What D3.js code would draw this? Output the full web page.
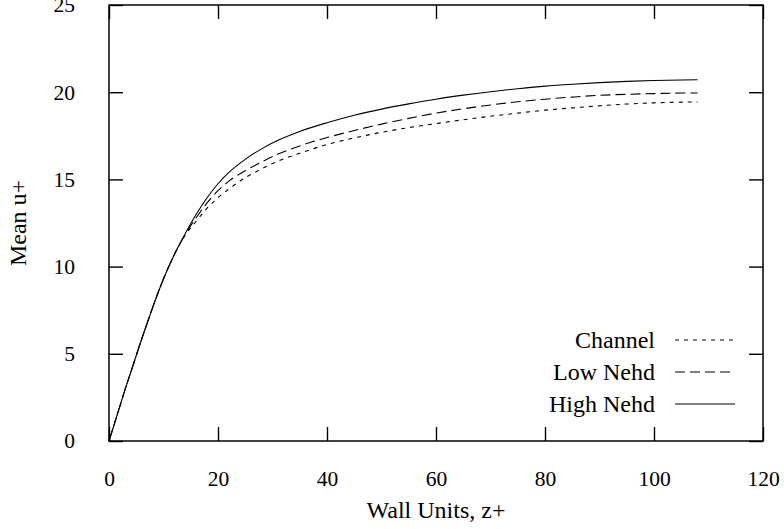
<!DOCTYPE html>
<html>
<head>
<meta charset="utf-8">
<script src="https://cdn.jsdelivr.net/npm/d3@7"></script>
<style>
  html, body { margin: 0; padding: 0; background: #fff; }
  svg text { font-family: "Liberation Serif", "Times New Roman", serif; fill: #000; }
</style>
</head>
<body>
<svg id="chart" width="784" height="529"></svg>
<script>
// Mean streamwise velocity profiles in wall units
const zPlus = [0, 1, 2, 3, 4, 5, 6, 7, 8, 9, 10, 12, 14, 16, 18, 20, 22, 25, 28, 31, 35, 40, 45, 50, 55, 60, 65, 70, 75, 80, 85, 90, 95, 100, 105, 108];

const channelU = [0, 1, 2, 3, 3.95, 4.9, 5.85, 6.75, 7.65, 8.5, 9.3, 10.7, 11.8, 12.6, 13.35, 13.95, 14.45, 15.1, 15.6, 16.05, 16.5, 17.0, 17.38, 17.7, 17.97, 18.2, 18.42, 18.62, 18.8, 18.97, 19.1, 19.22, 19.32, 19.39, 19.43, 19.44];
const lowNehdU = [0, 1, 2, 3, 3.95, 4.9, 5.85, 6.75, 7.65, 8.5, 9.3, 10.7, 11.85, 12.8, 13.65, 14.35, 14.9, 15.5, 16.0, 16.45, 16.92, 17.4, 17.8, 18.17, 18.5, 18.8, 19.05, 19.27, 19.45, 19.6, 19.72, 19.82, 19.88, 19.92, 19.95, 19.95];
const highNehdU = [0, 1, 2, 3, 3.95, 4.9, 5.85, 6.75, 7.65, 8.5, 9.3, 10.7, 11.9, 13.0, 13.95, 14.75, 15.4, 16.15, 16.75, 17.24, 17.75, 18.25, 18.68, 19.03, 19.33, 19.6, 19.83, 20.03, 20.2, 20.35, 20.46, 20.55, 20.62, 20.67, 20.7, 20.71];

const seriesNames = ["Channel", "Low Nehd", "High Nehd"];
const xTicks = [0, 20, 40, 60, 80, 100, 120];
const yTicks = [0, 5, 10, 15, 20, 25];

const series = [
  { name: seriesNames[0], values: channelU, dash: "4,5" },
  { name: seriesNames[1], values: lowNehdU, dash: "10,5" },
  { name: seriesNames[2], values: highNehdU, dash: null }
];

const svg = d3.select("#chart");
const plot = { left: 109, right: 763, top: 5, bottom: 441 };

const x = d3.scaleLinear().domain([0, 120]).range([plot.left, plot.right]);
const y = d3.scaleLinear().domain([0, 25]).range([plot.bottom, plot.top]);

const tickFont = 21.5;
const labelFont = 24;
const tickLen = 14;

// Ticks on all four sides, pointing inward
const axisStyle = g => {
  g.select(".domain").remove();
  g.selectAll(".tick line").attr("stroke", "#000").attr("stroke-width", 1.4);
  g.selectAll("text").attr("font-size", tickFont).attr("font-family", "Liberation Serif, serif");
};

svg.append("g")
  .attr("transform", `translate(0,${plot.bottom})`)
  .call(d3.axisBottom(x).tickValues(xTicks).tickSizeInner(-tickLen).tickSizeOuter(0).tickPadding(30))
  .call(axisStyle);

svg.append("g")
  .attr("transform", `translate(0,${plot.top})`)
  .call(d3.axisTop(x).tickValues(xTicks).tickSizeInner(-tickLen).tickSizeOuter(0).tickFormat(""))
  .call(axisStyle);

svg.append("g")
  .attr("transform", `translate(${plot.left},0)`)
  .call(d3.axisLeft(y).tickValues(yTicks).tickSizeInner(-tickLen).tickSizeOuter(0).tickPadding(34))
  .call(axisStyle);

svg.append("g")
  .attr("transform", `translate(${plot.right},0)`)
  .call(d3.axisRight(y).tickValues(yTicks).tickSizeInner(-tickLen).tickSizeOuter(0).tickFormat(""))
  .call(axisStyle);

// Plot frame
svg.append("rect")
  .attr("x", plot.left).attr("y", plot.top)
  .attr("width", plot.right - plot.left).attr("height", plot.bottom - plot.top)
  .attr("fill", "none").attr("stroke", "#000").attr("stroke-width", 1.5);

// Velocity curves
const line = d3.line()
  .x((d, i) => x(zPlus[i]))
  .y(d => y(d))
  .curve(d3.curveMonotoneX);

svg.append("g").selectAll("path")
  .data(series)
  .join("path")
  .attr("d", d => line(d.values))
  .attr("fill", "none")
  .attr("stroke", "#000")
  .attr("stroke-width", 1.1)
  .attr("stroke-dasharray", d => d.dash);

// Legend
const legend = svg.append("g");
const legendY = [340, 372, 404];
series.forEach((s, i) => {
  legend.append("text")
    .attr("x", 655).attr("y", legendY[i])
    .attr("dy", "0.33em")
    .attr("text-anchor", "end")
    .attr("font-size", labelFont)
    .text(s.name);
  legend.append("line")
    .attr("x1", 675).attr("x2", 735)
    .attr("y1", legendY[i]).attr("y2", legendY[i])
    .attr("stroke", "#000").attr("stroke-width", 1.1)
    .attr("stroke-dasharray", s.dash);
});

// Axis titles
svg.append("text")
  .attr("x", (plot.left + plot.right) / 2).attr("y", 518)
  .attr("text-anchor", "middle")
  .attr("font-size", labelFont)
  .text("Wall Units, z+");

svg.append("text")
  .attr("transform", `translate(26,${(plot.top + plot.bottom) / 2}) rotate(-90)`)
  .attr("text-anchor", "middle")
  .attr("font-size", labelFont)
  .text("Mean u+");
</script>
</body>
</html>
